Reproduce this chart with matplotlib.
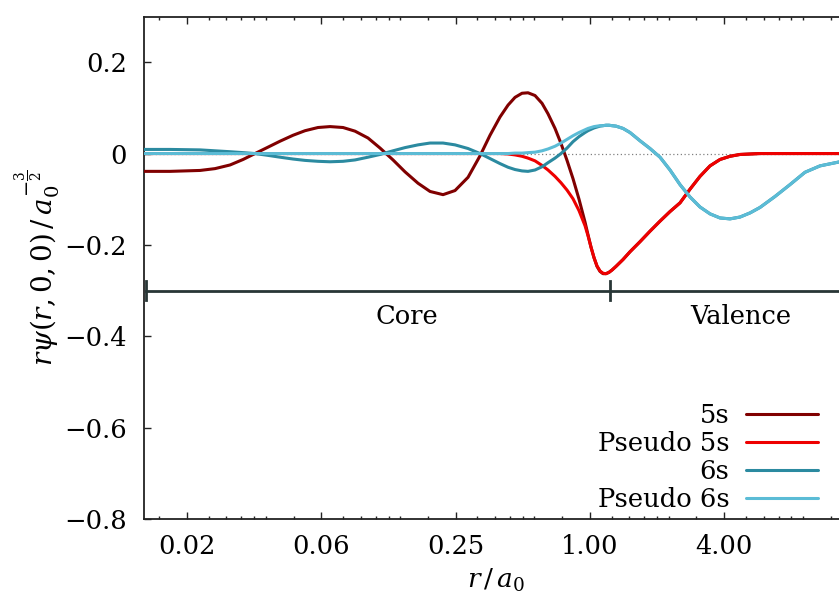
import matplotlib
matplotlib.use("Agg")
import matplotlib.pyplot as plt
from matplotlib.ticker import FixedLocator, FixedFormatter, NullFormatter

# radial grid r / a0 (log-spaced, denser where the orbitals oscillate)
r = [0.0100, 0.01310, 0.01785, 0.02084, 0.02433, 0.02783, 0.03149, 0.03601,
     0.04076, 0.04661, 0.05277, 0.06034, 0.06831, 0.07812, 0.08841, 0.1011,
     0.1145, 0.1309, 0.1481, 0.1694, 0.1918, 0.2193, 0.2482, 0.2839, 0.3213,
     0.3562, 0.3949, 0.4290, 0.4611, 0.4956, 0.5273, 0.5668, 0.6093, 0.6482,
     0.6968, 0.7413, 0.7887, 0.8390, 0.8927, 0.9497, 0.9796, 1.0104, 1.0422,
     1.0749, 1.1087, 1.1436, 1.1796, 1.2167, 1.2549, 1.3078, 1.4058,
     1.5112, 1.6755, 1.8577, 2.0596, 2.2836, 2.5320,
     2.8073, 3.1124, 3.4509, 3.8262, 4.2423, 4.7036, 5.2150, 5.7821, 6.7503,
     7.8808, 9.2005, 10.741, 13.204, 16.0]

psi_5s = [-0.039, -0.039, -0.037, -0.033, -0.025, -0.013, 0.000, 0.014,
          0.027, 0.040, 0.050, 0.057, 0.059, 0.057, 0.049, 0.034,
          0.012, -0.014, -0.040, -0.065, -0.083, -0.090, -0.081, -0.052, -0.005,
          0.040, 0.080, 0.106, 0.123, 0.132, 0.133, 0.127, 0.110, 0.087,
          0.055, 0.022, -0.015, -0.055, -0.100, -0.150, -0.178, -0.205, -0.228,
          -0.247, -0.258, -0.263, -0.263, -0.260, -0.255, -0.247, -0.232,
          -0.215, -0.193, -0.170, -0.148, -0.127, -0.108,
          -0.078, -0.050, -0.027, -0.013, -0.006, -0.002, -0.001, 0.000, 0.000,
          0.000, 0.000, 0.000, 0.000, 0.000]

psi_5s_pseudo = [0.0, 0.0, 0.0, 0.0, 0.0, 0.0, 0.0, 0.0,
                 0.0, 0.0, 0.0, 0.0, 0.0, 0.0, 0.0, 0.0,
                 0.0, 0.0, 0.0, 0.0, 0.0, 0.0, 0.0, 0.0, 0.0,
                 0.0, 0.0, -0.001, -0.003, -0.006, -0.010, -0.016, -0.026, -0.036,
                 -0.050, -0.064, -0.080, -0.099, -0.125, -0.158, -0.180, -0.205, -0.228,
                 -0.246, -0.257, -0.262, -0.263, -0.260, -0.255, -0.247, -0.232,
                 -0.215, -0.193, -0.170, -0.148, -0.127, -0.108,
                 -0.078, -0.050, -0.027, -0.013, -0.006, -0.002, -0.001, 0.000, 0.000,
                 0.000, 0.000, 0.000, 0.000, 0.000]

psi_6s = [0.009, 0.009, 0.008, 0.006, 0.004, 0.002, 0.000, -0.004,
          -0.008, -0.012, -0.015, -0.017, -0.018, -0.017, -0.014, -0.008,
          -0.002, 0.006, 0.013, 0.019, 0.023, 0.023, 0.019, 0.011, 0.000,
          -0.011, -0.022, -0.030, -0.035, -0.038, -0.039, -0.036, -0.029, -0.020,
          -0.010, 0.000, 0.012, 0.026, 0.037, 0.046, 0.050, 0.053, 0.056,
          0.058, 0.060, 0.061, 0.062, 0.062, 0.061, 0.060, 0.055,
          0.046, 0.028, 0.011, -0.008, -0.036, -0.068,
          -0.095, -0.117, -0.132, -0.141, -0.143, -0.139, -0.130, -0.118, -0.094,
          -0.068, -0.041, -0.027, -0.018, -0.012]

psi_6s_pseudo = [0.0, 0.0, 0.0, 0.0, 0.0, 0.0, 0.0, 0.0,
                 0.0, 0.0, 0.0, 0.0, 0.0, 0.0, 0.0, 0.0,
                 0.0, 0.0, 0.0, 0.0, 0.0, 0.0, 0.0, 0.0, 0.0,
                 0.0, 0.0, 0.000, 0.001, 0.001, 0.002, 0.003, 0.006, 0.010,
                 0.016, 0.023, 0.031, 0.039, 0.046, 0.052, 0.055, 0.057, 0.059,
                 0.060, 0.061, 0.061, 0.062, 0.062, 0.061, 0.060, 0.055,
                 0.046, 0.028, 0.011, -0.008, -0.036, -0.068,
                 -0.095, -0.117, -0.132, -0.141, -0.143, -0.139, -0.130, -0.118, -0.094,
                 -0.068, -0.041, -0.027, -0.018, -0.012]

series_labels = ["5s", "Pseudo 5s", "6s", "Pseudo 6s"]
series_colors = ["#800000", "#ee0000", "#2b8aa0", "#5bbcd6"]

x_major = [1 / 64, 1 / 16, 1 / 4, 1.0, 4.0]
x_major_labels = ["0.02", "0.06", "0.25", "1.00", "4.00"]
x_minor_factors = [1.25, 1.5, 1.75, 2.0, 2.25, 3.0]
y_major = [-0.8, -0.6, -0.4, -0.2, 0.0, 0.2]
y_major_labels = ["\u22120.8", "\u22120.6", "\u22120.4", "\u22120.2", "0", "0.2"]

region_level = -0.3
core_start = 0.0102
core_end = 1.23
region_labels = [("Core", 0.151), ("Valence", 4.75)]
region_label_y = -0.357

plt.rcParams["font.family"] = ["DejaVu Serif"]
plt.rcParams["mathtext.fontset"] = "dejavuserif"
FS = 18.5

fig = plt.figure(figsize=(8.39, 5.99), dpi=100)
ax = fig.add_axes([143.9 / 839, 1 - 519 / 599, 714.7 / 839, 502.5 / 599])
ax.set_xscale("log", base=4)
ax.set_xlim(0.01, 16)
ax.set_ylim(-0.8, 0.3)

ax.axhline(0, color="#808080", lw=0.9, ls=(0, (1, 2)), zorder=1)

curves = [psi_5s, psi_5s_pseudo, psi_6s, psi_6s_pseudo]
for vals, lab, col in zip(curves, series_labels, series_colors):
    ax.plot(r, vals, color=col, lw=2.2, label=lab, zorder=3,
            solid_capstyle="round", solid_joinstyle="round")

# core / valence bracket
bracket_col = "#283636"
ax.plot([core_start, 16], [region_level, region_level], color=bracket_col, lw=2.0, zorder=2)
for xe in (core_start, core_end):
    ax.plot([xe, xe], [region_level - 0.02, region_level + 0.02],
            color=bracket_col, lw=2.0, zorder=2)
for txt, xpos in region_labels:
    ax.text(xpos, region_label_y, txt, ha="center", va="center", fontsize=FS)

# ticks
ax.xaxis.set_major_locator(FixedLocator(x_major))
ax.xaxis.set_major_formatter(FixedFormatter(x_major_labels))
minor = [b * f for b in [1 / 256] + x_major for f in x_minor_factors]
ax.xaxis.set_minor_locator(FixedLocator(minor))
ax.xaxis.set_minor_formatter(NullFormatter())
ax.yaxis.set_major_locator(FixedLocator(y_major))
ax.yaxis.set_major_formatter(FixedFormatter(y_major_labels))

ax.tick_params(axis="both", which="both", direction="in", top=True, right=True,
               width=1.0, colors="#222222", labelcolor="black", labelsize=FS)
ax.tick_params(axis="both", which="major", length=5)
ax.tick_params(axis="both", which="minor", length=2.5)
ax.tick_params(axis="x", which="major", pad=11)
ax.tick_params(axis="y", which="major", pad=12)
for sp in ax.spines.values():
    sp.set_linewidth(1.3)
    sp.set_color("#222222")

fig.text(496 / 839, 1 - 580 / 599, r"$r\,/\,a_0$", ha="center", va="center", fontsize=19)
fig.text(38 / 839, 1 - 268 / 599, r"$r\psi(r,0,0)\,/\,a_0^{-\frac{3}{2}}$",
         ha="center", va="center", rotation=90, fontsize=20)

ax.legend(loc="lower right", bbox_to_anchor=(818 / 839, 1 - 512 / 599),
          bbox_transform=fig.transFigure, frameon=False, markerfirst=False,
          fontsize=FS, handlelength=2.8, handletextpad=0.65, labelspacing=0.12,
          borderpad=0, borderaxespad=0)

fig.savefig("out.png", dpi=100)
